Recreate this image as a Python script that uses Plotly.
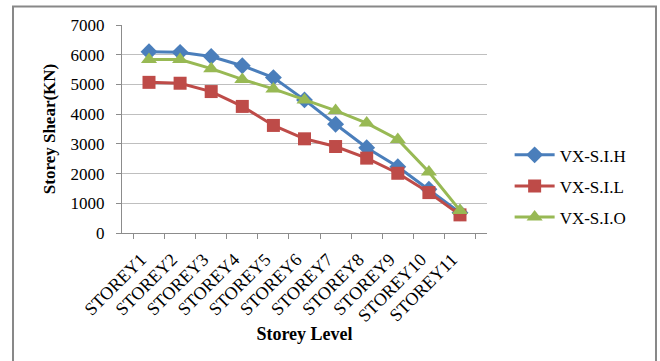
import plotly.graph_objects as go

storeys = ["STOREY1", "STOREY2", "STOREY3", "STOREY4", "STOREY5", "STOREY6",
           "STOREY7", "STOREY8", "STOREY9", "STOREY10", "STOREY11"]
vx_sih = [6100, 6080, 5940, 5630, 5230, 4480, 3660, 2870, 2230, 1470, 680]
vx_sil = [5070, 5040, 4760, 4260, 3620, 3170, 2910, 2520, 2010, 1360, 610]
vx_sio = [5840, 5840, 5530, 5170, 4850, 4480, 4120, 3700, 3150, 2050, 760]

series = [
    ("VX-S.I.H", vx_sih, "#4A7EBB", "diamond", 13),
    ("VX-S.I.L", vx_sil, "#BE4B48", "square", 13),
    ("VX-S.I.O", vx_sio, "#98B954", "triangle-up", 14),
]

fig = go.Figure()
for name, vals, color, symbol, size in series:
    fig.add_trace(go.Scatter(
        x=storeys, y=vals, name=name, legendgroup=name, mode="lines+markers",
        line=dict(color=color, width=3),
        marker=dict(symbol=symbol, size=size, color=color),
    ))

serif = "Liberation Serif, Times New Roman, serif"

fig.update_layout(
    width=660, height=361,
    margin=dict(l=122, r=173, t=25, b=128),
    paper_bgcolor="white", plot_bgcolor="white",
    font=dict(family=serif, size=17, color="black"),
    showlegend=True,
    legend=dict(x=1.062, y=0.46, xanchor="left", yanchor="top",
                font=dict(family=serif, size=17), tracegroupgap=6,
                itemwidth=40, bgcolor="rgba(0,0,0,0)"),
    xaxis=dict(
        type="category", showgrid=False,
        showline=True, linecolor="#8c8c8c", linewidth=1,
        ticks="outside", tickson="boundaries", ticklen=5, tickcolor="#8c8c8c",
        tickangle=-45, ticklabelstandoff=8, ticklabelshift=-8,
        tickfont=dict(family=serif, size=18),
        title=dict(text="<b>Storey Level</b>", font=dict(family=serif, size=18),
                   standoff=2),
    ),
    yaxis=dict(
        range=[0, 7000], dtick=1000,
        showgrid=True, gridcolor="#bfbfbf", gridwidth=1,
        showline=True, linecolor="#8c8c8c", linewidth=1,
        ticks="outside", ticklen=5, tickcolor="#8c8c8c",
        ticklabelstandoff=8,
        tickfont=dict(family=serif, size=17),
        zeroline=False,
        title=dict(text="<b>Storey Shear(KN)</b>", font=dict(family=serif, size=17),
                   standoff=10),
    ),
    shapes=[dict(type="rect", xref="paper", yref="paper",
                 x0=-0.2986, x1=1.463, y0=-1.0, y1=1.089,
                 line=dict(color="#888888", width=2), layer="below")],
)

fig.write_html("out.html")
